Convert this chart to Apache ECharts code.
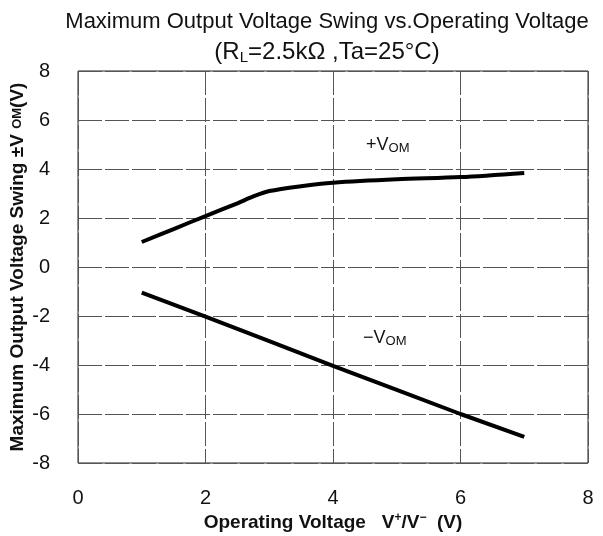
<!DOCTYPE html>
<html>
<head>
<meta charset="utf-8">
<script src="https://cdn.jsdelivr.net/npm/echarts@6/dist/echarts.min.js"></script>
<style>
  html, body { margin: 0; padding: 0; background: #fff; }
  #chart { width: 603px; height: 536px; }
</style>
</head>
<body>
<div id="chart"></div>
<script>
// +VOM curve
const posX = [1, 1.5, 2, 2.5, 2.75, 3, 3.5, 4, 5, 6, 7]
const posY = [1.02, 1.55, 2.08, 2.6, 2.88, 3.1, 3.3, 3.44, 3.58, 3.67, 3.84]
// -VOM line
const negX = [1, 2, 3, 4, 5, 6, 7]
const negY = [-1.05, -2.03, -3.03, -4.04, -5.02, -6.0, -6.93]

const xTicks = [0, 2, 4, 6, 8]
const yTicks = [-8, -6, -4, -2, 0, 2, 4, 6, 8]

const font = 'Liberation Sans, Arial, sans-serif'
const chart = echarts.init(document.getElementById('chart'))

const tagRich = {
  n: { fontFamily: font, fontSize: 18, fill: '#111' },
  s: { fontFamily: font, fontSize: 13, fill: '#111', verticalAlign: 'bottom', padding: [7, 0, 0, 0] }
}

chart.setOption({
  animation: false,
  backgroundColor: '#fff',
  title: {
    text: 'Maximum Output Voltage Swing vs.Operating Voltage',
    subtext: '{n|(R}{s|L}{n|=2.5kΩ ,Ta=25°C)}',
    left: 322, top: 6, textAlign: 'center',
    itemGap: 7,
    textStyle: { fontFamily: font, fontSize: 22, fontWeight: 'normal', color: '#111' },
    subtextStyle: {
      fontFamily: font, color: '#111',
      rich: {
        n: { fontFamily: font, fontSize: 24, color: '#111' },
        s: { fontFamily: font, fontSize: 15, color: '#111', verticalAlign: 'bottom', padding: [10, 0, 0, 0] }
      }
    }
  },
  grid: {
    left: 78, right: 15, top: 71, bottom: 73,
    outerBoundsMode: 'none',
    show: true, borderColor: '#222', borderWidth: 1
  },
  xAxis: {
    type: 'value', min: xTicks[0], max: xTicks[xTicks.length - 1], interval: 2,
    axisLine: { show: false }, axisTick: { show: false },
    splitLine: { lineStyle: { color: '#555', type: [24, 3], width: 1 } },
    axisLabel: { fontFamily: font, fontSize: 20, color: '#111', margin: 25 },
    name: '{n|Operating Voltage   V}{u|+}{n|/V}{u|−}{n|  (V)}',
    nameLocation: 'middle', nameGap: 49, nameMoveOverlap: false,
    nameTextStyle: {
      rich: {
        n: { fontFamily: font, fontSize: 19, fontWeight: 'bold', color: '#111' },
        u: { fontFamily: font, fontSize: 12, fontWeight: 'bold', color: '#111', verticalAlign: 'top', padding: [0, 0, 10, 0] }
      }
    }
  },
  yAxis: {
    type: 'value', min: yTicks[0], max: yTicks[yTicks.length - 1], interval: 2,
    axisLine: { show: false }, axisTick: { show: false },
    splitLine: { lineStyle: { color: '#555', type: [24, 3], width: 1 } },
    axisLabel: { fontFamily: font, fontSize: 20, color: '#111', margin: 28 },
    name: '{n|Maximum Output Voltage Swing ±V }{s|OM}{n|(V)}',
    nameLocation: 'middle', nameGap: 51, nameRotate: 90, nameMoveOverlap: false,
    nameTextStyle: {
      rich: {
        n: { fontFamily: font, fontSize: 19, fontWeight: 'bold', color: '#111' },
        s: { fontFamily: font, fontSize: 13, fontWeight: 'bold', color: '#111' }
      }
    }
  },
  series: [
    {
      type: 'line', data: posX.map((x, i) => [x, posY[i]]),
      smooth: 0.3, showSymbol: false,
      lineStyle: { color: '#000', width: 4 }
    },
    {
      type: 'line', data: negX.map((x, i) => [x, negY[i]]),
      showSymbol: false,
      lineStyle: { color: '#000', width: 4 }
    }
  ],
  graphic: [
    { type: 'text', left: 366, top: 136, style: { text: '{n|+V}{s|OM}', rich: tagRich } },
    { type: 'text', left: 363, top: 329, style: { text: '{n|−V}{s|OM}', rich: tagRich } }
  ]
})
</script>
</body>
</html>
